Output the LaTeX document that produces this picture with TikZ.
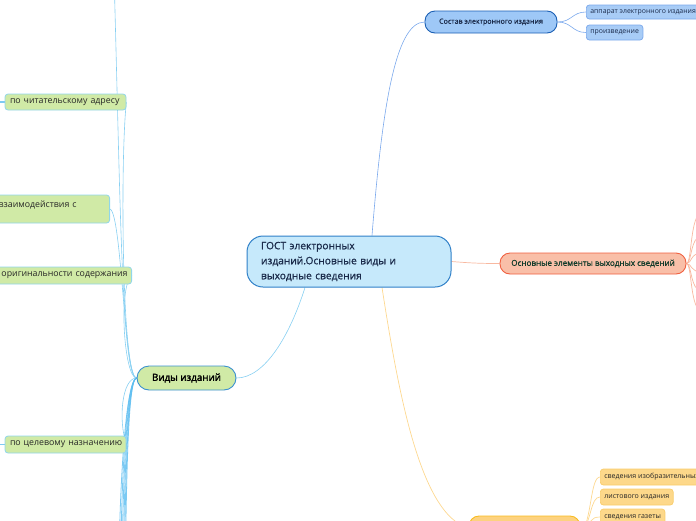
\documentclass[tikz,border=0pt]{standalone}
\usepackage{fontspec}
\setmainfont{Open Sans}
\newfontfamily\semib[FakeBold=0.8]{Open Sans}
\newfontfamily\vidyfont[FakeBold=2.2]{Open Sans}
\pgfdeclarelayer{bg}
\pgfsetlayers{bg,main}
\definecolor{cFill}{HTML}{C6E9FB}
\definecolor{cBorder}{HTML}{2F80C8}
\definecolor{cText}{HTML}{1A2A4A}
\definecolor{sFill}{HTML}{9EC8F7}
\definecolor{sBorder}{HTML}{1A5FB4}
\definecolor{bFill}{HTML}{A8CCF6}
\definecolor{bBorder}{HTML}{7AA8EC}
\definecolor{bLine}{HTML}{7AA8EC}
\definecolor{oFill}{HTML}{F9BFA8}
\definecolor{oBorder}{HTML}{F06040}
\definecolor{oLine}{HTML}{F8B8A0}
\definecolor{oText}{HTML}{103A2A}
\definecolor{yFill}{HTML}{FDD27F}
\definecolor{yBorder}{HTML}{F8BC20}
\definecolor{ycFill}{HTML}{FDD88A}
\definecolor{ycBorder}{HTML}{F8CC6A}
\definecolor{yLine}{HTML}{FDD890}
\definecolor{gFill}{HTML}{D0EAA6}
\definecolor{gcBorder}{HTML}{90D6EA}
\definecolor{vBorder}{HTML}{3A90D0}
\definecolor{gLine}{HTML}{88D0F2}
\definecolor{gLineS}{HTML}{5CBDF0}
\tikzset{
  central/.style={draw=cBorder, fill=cFill, rounded corners=16pt, line width=1pt, inner xsep=14pt, align=left, text=cText, font=\semib\fontsize{10.2}{15}\selectfont},
  sostav/.style={draw=sBorder, fill=sFill, rounded corners=10pt, line width=0.9pt, text=cText, font=\semib\fontsize{7.1}{9}\selectfont, inner sep=0pt},
  bchild/.style={draw=bBorder, fill=bFill, rounded corners=3pt, line width=0.7pt, text=cText, font=\fontsize{6.9}{8}\selectfont, inner xsep=4pt, inner ysep=0pt, anchor=west},
  osn/.style={draw=oBorder, fill=oFill, rounded corners=10pt, line width=0.9pt, text=oText, font=\semib\fontsize{8.1}{10}\selectfont, inner sep=0pt},
  yroot/.style={draw=yBorder, fill=yFill, rounded corners=10pt, line width=0.9pt, inner sep=0pt},
  ychild/.style={draw=ycBorder, fill=ycFill, rounded corners=3pt, line width=0.7pt, text=black!85, font=\fontsize{7}{8}\selectfont, inner xsep=4pt, inner ysep=0pt, anchor=west},
  vidy/.style={draw=vBorder, fill=gFill, rounded corners=12pt, line width=0.9pt, text=black, font=\vidyfont\fontsize{9.8}{12}\selectfont, inner sep=0pt},
  gchild/.style={draw=gcBorder, fill=gFill, rounded corners=3pt, line width=0.8pt, text=black!85, font=\fontsize{8.8}{10}\selectfont, inner xsep=4pt, inner ysep=0pt},
  bconn/.style={draw=bLine, line width=0.6pt},
  oconn/.style={draw=oLine, line width=0.7pt},
  yconn/.style={draw=yLine, line width=0.7pt},
  gconn/.style={draw=gLine, line width=0.6pt},
  gconnS/.style={draw=gLineS, line width=0.8pt, opacity=0.8},
}
\begin{document}
\begin{tikzpicture}[x=1pt,y=-1pt]
\useasboundingbox (0,0) rectangle (696,520);
\clip (0,0) rectangle (696,520);
% central
\node[central, text width=176pt, minimum height=51pt] (c) at (349,261.5) {ГОСТ электронных\\изданий.Основные виды и\\выходные сведения};
% Состав
\node[sostav, minimum width=132pt, minimum height=22pt] (s) at (491,22) {Состав электронного издания};
\node[bchild, minimum height=14pt] (s1) at (586,12) {аппарат электронного издания};
\node[bchild, minimum height=15pt] (s2) at (586,32.5) {произведение};
% Основные
\node[osn, minimum width=186pt, minimum height=21pt] (o) at (593,263.5) {Основные элементы выходных сведений};
\coordinate (o1) at (702,213);
\coordinate (o2) at (702,236);
\coordinate (o3) at (702,253);
\coordinate (o4) at (702,272);
\coordinate (o5) at (702,291);
\coordinate (o6) at (702,311);
% orange
\node[yroot, minimum width=111pt, minimum height=24pt] (y) at (524.5,528) {};
\node[ychild, minimum height=16pt] (y1) at (600,477) {сведения изобразительных};
\node[ychild, minimum height=16pt] (y2) at (600,497) {листового издания};
\node[ychild, minimum height=16pt] (y3) at (600,517) {сведения газеты};
% Виды
\node[vidy, minimum width=99pt, minimum height=24pt] (v) at (186.5,378) {Виды изданий};
\node[gchild, text width=116pt, align=left, minimum height=16pt, inner xsep=2.5pt] (g1) at (65.5,102) {\hspace*{2.5pt}по читательскому адресу};
\node[gchild, text width=106pt, align=left, minimum height=28pt, anchor=east, inner xsep=5pt] (g2) at (110,209) {взаимодействия с\\\mbox{}};
\node[gchild, text width=140pt, align=right, minimum height=17pt, anchor=east] (g3) at (132,275.5) {оригинальности содержания};
\node[gchild, text width=116pt, align=left, minimum height=17pt, inner xsep=2.5pt] (g4) at (65.5,444.5) {\hspace*{2.5pt}по целевому назначению};
\coordinate (gt) at (112,-90);
\coordinate (gb1) at (119,560);
\coordinate (gb2) at (120,600);
\coordinate (gb3) at (121,640);
\coordinate (gb4) at (122,690);
\coordinate (gb5) at (123,740);
\coordinate (gb6) at (124,800);
\coordinate (gl1) at (-20,102);
\coordinate (gl4) at (-20,444.5);

\begin{pgfonlayer}{bg}
\draw[bconn] ([xshift=23pt]c.north) .. controls (382,110) and (395,22) .. (s.west);
\draw[bconn] (s.east) .. controls (572,22) and (572,12) .. (s1.west);
\draw[bconn] (s.east) .. controls (572,22) and (572,32.5) .. (s2.west);
\draw[oconn] (c.east) .. controls (470,263) and (480,263.5) .. (o.west);
\foreach \t in {o1,o2,o3,o4,o5,o6}{
  \draw[oconn] (o.east) .. controls (692,263.5) and (690,0 |- \t) .. (\t);
}
\draw[yconn] ([xshift=33pt]c.south) .. controls (398,390) and (420,515) .. (y.west);
\draw[yconn] ([yshift=-6pt]y.east) .. controls (592,522) and (590,477) .. (y1.west);
\draw[yconn] ([yshift=-6pt]y.east) .. controls (592,522) and (590,497) .. (y2.west);
\draw[yconn] ([yshift=-6pt]y.east) .. controls (592,522) and (590,517) .. (y3.west);
\draw[gconn] ([xshift=-44pt]c.south) .. controls (290,335) and (265,378) .. (v.east);
% Виды children
\draw[gconn] (v.west) .. controls (122,378) and (120,160) .. (g1.east);
\draw[gconn] (v.west) .. controls (124,378) and (122,214) .. (g2.east);
\draw[gconn] (v.west) .. controls (124,378) and (118,285) .. (g3.east);
\draw[gconn] (v.west) .. controls (122,378) and (118,420) .. (g4.east);
\draw[gconn] (v.west) .. controls (120,378) and (120,150) .. (gt);
\draw[gconnS] (v.west) .. controls (126,380) and (120,480) .. (gb1);
\draw[gconnS] (v.west) .. controls (126,380) and (121,480) .. (gb2);
\draw[gconnS] (v.west) .. controls (126,380) and (122,490) .. (gb3);
\draw[gconnS] (v.west) .. controls (126,380) and (123,500) .. (gb4);
\draw[gconnS] (v.west) .. controls (126,380) and (124,510) .. (gb5);
\draw[gconnS] (v.west) .. controls (126,380) and (125,520) .. (gb6);
\draw[gconnS, line width=1.2pt] (g1.west) .. controls (-5,102) and (-10,102) .. (gl1);
\draw[gconnS, line width=1.2pt] (g4.west) .. controls (-5,444.5) and (-10,444.5) .. (gl4);
\end{pgfonlayer}
\end{tikzpicture}
\end{document}
